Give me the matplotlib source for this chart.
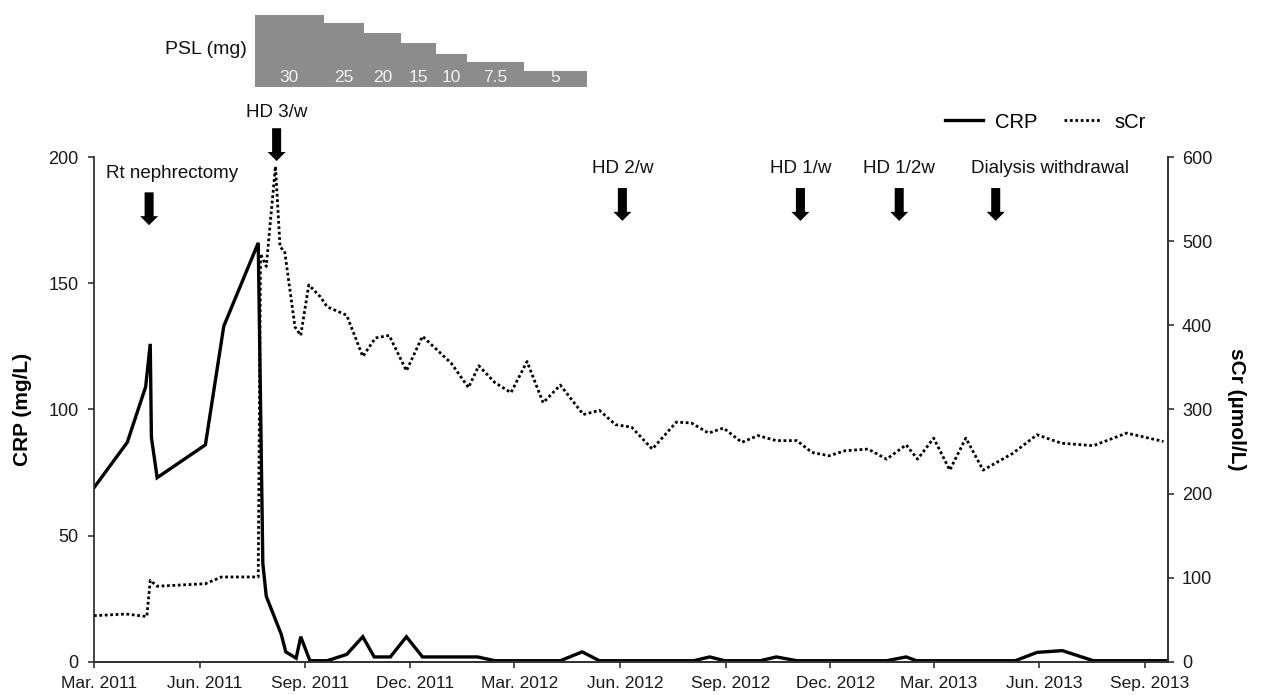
import matplotlib
matplotlib.use('Agg')
import matplotlib.pyplot as plt
import matplotlib.dates as mdates
import matplotlib.transforms as mtransforms
import numpy as np

plt.rcParams['font.family'] = ['Liberation Sans', 'DejaVu Sans']

# CRP (mg/L), left axis
crp_dates = ['2011-03-01', '2011-03-30', '2011-04-15', '2011-04-19', '2011-04-20',
             '2011-04-25', '2011-06-06', '2011-06-22', '2011-07-22', '2011-07-26',
             '2011-07-29', '2011-08-11', '2011-08-15', '2011-08-24', '2011-08-28',
             '2011-09-05', '2011-09-20', '2011-10-07', '2011-10-21', '2011-10-31',
             '2011-11-14', '2011-11-28', '2011-12-12', '2012-01-29', '2012-02-13',
             '2012-04-10', '2012-04-29', '2012-05-14', '2012-08-04', '2012-08-18',
             '2012-08-31', '2012-10-01', '2012-10-15', '2012-11-02', '2013-01-19',
             '2013-02-05', '2013-02-14', '2013-05-11', '2013-05-30', '2013-06-21',
             '2013-07-18', '2013-09-19']
crp = [69, 87, 109, 126, 89, 73, 86, 133, 166, 39,
       26, 11, 4, 1.5, 10, 0.5, 0.5, 3, 10, 2,
       2, 10, 2, 2, 0.5, 0.5, 4, 0.5, 0.5, 2,
       0.5, 0.5, 2, 0.5, 0.5, 2, 0.5, 0.5, 3.8, 4.5,
       0.5, 0.5]

# sCr (umol/L), right axis
scr_dates = ['2011-03-01', '2011-03-29', '2011-04-16', '2011-04-19', '2011-04-25',
             '2011-06-06', '2011-06-20', '2011-07-22', '2011-07-24', '2011-07-29',
             '2011-08-06', '2011-08-10', '2011-08-14', '2011-08-23', '2011-08-28',
             '2011-09-04', '2011-09-14', '2011-09-20', '2011-10-07', '2011-10-21',
             '2011-11-01', '2011-11-13', '2011-11-28', '2011-12-12', '2012-01-06',
             '2012-01-21', '2012-01-30', '2012-02-13', '2012-02-27', '2012-03-12',
             '2012-03-26', '2012-04-10', '2012-04-30', '2012-05-14', '2012-05-28',
             '2012-06-11', '2012-06-29', '2012-07-20', '2012-08-02', '2012-08-17',
             '2012-08-30', '2012-09-15', '2012-09-29', '2012-10-15', '2012-11-02',
             '2012-11-15', '2012-11-30', '2012-12-14', '2013-01-03', '2013-01-19',
             '2013-02-05', '2013-02-15', '2013-03-01', '2013-03-15', '2013-03-29',
             '2013-04-13', '2013-05-09', '2013-05-30', '2013-06-20', '2013-07-18',
             '2013-08-16', '2013-09-17']
scr = [55, 57, 54, 97, 90, 93, 101, 101, 485, 470,
       589, 493, 488, 398, 388, 448, 434, 422, 412, 363,
       385, 388, 346, 387, 355, 326, 352, 332, 320, 357,
       308, 329, 294, 299, 282, 279, 253, 285, 284, 272,
       278, 261, 269, 263, 263, 249, 245, 251, 253, 241,
       258, 241, 266, 228, 266, 228, 248, 270, 260, 257,
       272, 262]

# prednisolone taper (schematic step heights)
psl_change_dates = ['2011-07-19', '2011-09-17', '2011-10-22', '2011-11-23',
                    '2011-12-24', '2012-01-20', '2012-03-09', '2012-05-03']
psl_dose = ['30', '25', '20', '15', '10', '7.5', '5']
psl_level = [72.3, 64, 54, 44.6, 33, 25, 16.6]

events = ['Rt nephrectomy', 'HD 3/w', 'HD 2/w', 'HD 1/w', 'HD 1/2w',
          'Dialysis withdrawal']
event_dates = ['2011-04-18', '2011-08-07', '2012-06-03', '2012-11-05',
               '2013-01-30', '2013-04-24']
event_text_dates = ['2011-05-08', '2011-08-07', '2012-06-03', '2012-11-05',
                    '2013-01-30', '2013-06-10']

xtick_dates = ['2011-03-01', '2011-06-01', '2011-09-01', '2011-12-01',
               '2012-03-01', '2012-06-01', '2012-09-01', '2012-12-01',
               '2013-03-01', '2013-06-01', '2013-09-01']
xtick_labels = ['Mar. 2011', 'Jun. 2011', 'Sep. 2011', 'Dec. 2011',
                'Mar. 2012', 'Jun. 2012', 'Sep. 2012', 'Dec. 2012',
                'Mar. 2013', 'Jun. 2013', 'Sep. 2013']


def to_num(dates):
    return mdates.date2num(np.array(dates, dtype='datetime64[D]'))


xmin, xmax = to_num(['2011-03-01', '2013-09-21'])
axis_color = '#333333'

fig = plt.figure(figsize=(12.63, 6.95), dpi=100)
ax = fig.add_axes([0.0744, 0.0475, 0.8504, 0.7266])
ax2 = ax.twinx()

l1, = ax.plot(to_num(crp_dates), crp, color='black', lw=2.4,
              solid_joinstyle='miter', label='CRP')
l2, = ax2.plot(to_num(scr_dates), scr, color='black', lw=2.0,
               linestyle=(0, (1, 0.95)), label='sCr')

ax.set_xlim(xmin, xmax)
ax.set_ylim(0, 200)
ax.set_yticks([0, 50, 100, 150, 200])
ax2.set_ylim(0, 600)
ax2.set_yticks([0, 100, 200, 300, 400, 500, 600])
ax.set_xticks(to_num(xtick_dates))
ax.set_xticklabels(xtick_labels)

for a in (ax, ax2):
    a.spines['top'].set_visible(False)
    for s in a.spines.values():
        s.set_color(axis_color)
        s.set_linewidth(1.3)
    a.tick_params(direction='out', length=4, width=1.2, colors=axis_color,
                  labelcolor='#1a1a1a', labelsize=13)
ax2.spines['left'].set_visible(False)
ax.tick_params(axis='x', pad=6, labelsize=12.5)
ax.tick_params(axis='y', pad=7)
ax2.tick_params(axis='y', pad=6)

shift = mtransforms.ScaledTranslation(5 / 100, 0, fig.dpi_scale_trans)
for lab in ax.get_xticklabels():
    lab.set_transform(lab.get_transform() + shift)

ax.set_ylabel('CRP (mg/L)', fontsize=15, fontweight='bold', labelpad=12)
ax2.set_ylabel('sCr (µmol/L)', fontsize=15, fontweight='bold', rotation=270,
               labelpad=24)

# event arrows
tip_y = [173, 198.4, 174.7, 174.7, 174.7, 174.7]
tail_y = [186, 211.4, 187.7, 187.7, 187.7, 187.7]
text_y = [193.3, 217.8, 195.6, 195.6, 195.6, 195.6]
ev_x = to_num(event_dates)
tx_x = to_num(event_text_dates)
for i, name in enumerate(events):
    ax.annotate('', xy=(ev_x[i], tip_y[i]), xytext=(ev_x[i], tail_y[i]),
                arrowprops=dict(arrowstyle='simple,head_length=0.65,'
                                'head_width=1.3,tail_width=0.65',
                                mutation_scale=10, fc='black', ec='none',
                                shrinkA=0, shrinkB=0),
                annotation_clip=False)
    ax.text(tx_x[i], text_y[i], name, ha='center', va='center',
            fontsize=13.5, color='#111111', clip_on=False)

# PSL steps above the plot
psl_ax = fig.add_axes([0.0744, 0.8744, 0.8504, 0.1040])
starts = to_num(psl_change_dates[:-1])
ends = to_num(psl_change_dates[1:])
psl_ax.bar(starts, psl_level, width=ends - starts, align='edge',
           color='#8c8c8c', edgecolor='none')
for s, e, d in zip(starts, ends, psl_dose):
    psl_ax.text((s + e) / 2, 9.3, d, ha='center', va='center',
                fontsize=12.5, color='#f2f2f2')
psl_ax.set_xlim(xmin, xmax)
psl_ax.set_ylim(0, 72.3)
psl_ax.axis('off')
fig.text(247 / 1263, 1 - 50 / 695, 'PSL (mg)', ha='right', va='center',
         fontsize=14, color='#111111')

fig.legend(handles=[l1, l2], loc='center left',
           bbox_to_anchor=(945 / 1263, 1 - 122 / 695), ncol=2, frameon=False,
           fontsize=14.5, handlelength=1.9, handletextpad=0.6,
           columnspacing=1.3, borderpad=0, borderaxespad=0)

fig.savefig('out.png', dpi=100)
